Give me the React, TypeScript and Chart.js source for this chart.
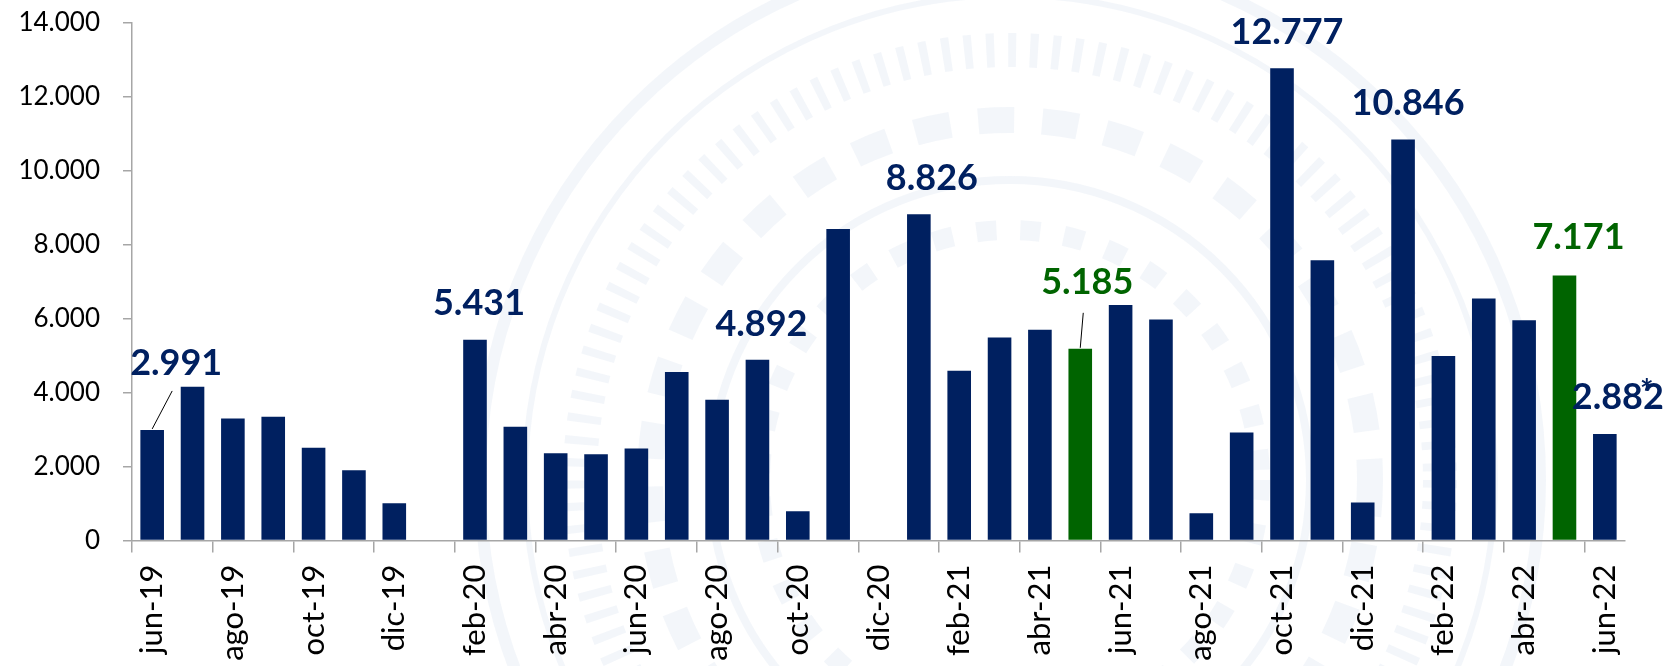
import React, { useEffect, useRef } from 'react';
import { Chart, registerables } from 'chart.js';

Chart.register(...registerables);

const categories = [
  'jun-19', 'jul-19', 'ago-19', 'sep-19', 'oct-19', 'nov-19', 'dic-19', 'ene-20',
  'feb-20', 'mar-20', 'abr-20', 'may-20', 'jun-20', 'jul-20', 'ago-20', 'sep-20',
  'oct-20', 'nov-20', 'dic-20', 'ene-21', 'feb-21', 'mar-21', 'abr-21', 'may-21',
  'jun-21', 'jul-21', 'ago-21', 'sep-21', 'oct-21', 'nov-21', 'dic-21', 'ene-22',
  'feb-22', 'mar-22', 'abr-22', 'may-22', 'jun-22',
];

const values: (number | null)[] = [
  2991, 4160, 3300, 3350, 2510, 1900, 1010, null,
  5431, 3080, 2360, 2330, 2490, 4560, 3810, 4892,
  790, 8430, null, 8826, 4590, 5490, 5700, 5185,
  6370, 5980, 740, 2920, 12777, 7580, 1030, 10846,
  4990, 6550, 5960, 7171, 2882,
];

const highlightedMonths = ['may-21', 'may-22'];
const labeledMonths = ['jun-19', 'feb-20', 'sep-20', 'ene-21', 'may-21', 'oct-21', 'ene-22', 'may-22', 'jun-22'];
const starredMonths = ['jun-22'];

const yMin = 0;
const yMax = 14000;
const yStep = 2000;

const NAVY = '#002060';
const GREEN = '#006400';
const AXIS = '#a6a6a6';

// label placement (offsets from bar top centre), not data
const labelPlacement: Record<string, { dx: number; dy: number; leader?: [number, number, number, number] }> = {
  'jun-19': { dx: 24, dy: -55, leader: [0, -1, 20, -39] },
  'feb-20': { dx: 4, dy: -25 },
  'sep-20': { dx: 4, dy: -24 },
  'ene-21': { dx: 13, dy: -24 },
  'may-21': { dx: 7, dy: -55, leader: [0, -1, 3, -36] },
  'oct-21': { dx: 5, dy: -24 },
  'ene-22': { dx: 5, dy: -25 },
  'may-22': { dx: 14, dy: -26 },
  'jun-22': { dx: 13, dy: -25 },
};

const fmt = (v: number) => String(Math.round(v)).replace(/\B(?=(\d{3})+(?!\d))/g, '.');

// faint circular watermark in the background
const watermark = {
  id: 'watermark',
  beforeDraw(chart: any) {
    const ctx = chart.ctx;
    const cx = 1010;
    const cy = 480;
    ctx.save();
    ctx.strokeStyle = 'rgba(200,214,230,0.22)';
    const ring = (r: number, w: number, dash: number[] = []) => {
      ctx.setLineDash(dash);
      ctx.lineWidth = w;
      ctx.beginPath();
      ctx.arc(cx, cy, r, 0, Math.PI * 2);
      ctx.stroke();
    };
    ring(530, 12);
    ring(485, 6);
    ring(430, 34, [8, 14]);
    ring(360, 26, [36, 28]);
    ring(300, 8);
    ring(250, 20, [20, 24]);
    ctx.setLineDash([]);
    ctx.restore();
  },
};

const valueLabels = {
  id: 'valueLabels',
  afterDatasetsDraw(chart: any) {
    const ctx = chart.ctx;
    const meta = chart.getDatasetMeta(0);
    ctx.save();
    labeledMonths.forEach((m) => {
      const i = categories.indexOf(m);
      const v = values[i];
      const el = meta.data[i];
      if (v == null || !el) return;
      const p = labelPlacement[m] || { dx: 0, dy: -24 };
      const color = highlightedMonths.includes(m) ? GREEN : NAVY;
      if (p.leader) {
        ctx.strokeStyle = '#000';
        ctx.lineWidth = 1;
        ctx.beginPath();
        ctx.moveTo(el.x + p.leader[0], el.y + p.leader[1]);
        ctx.lineTo(el.x + p.leader[2], el.y + p.leader[3]);
        ctx.stroke();
      }
      ctx.font = 'bold 36px Lato';
      ctx.fillStyle = color;
      ctx.textAlign = 'center';
      ctx.textBaseline = 'alphabetic';
      const text = fmt(v);
      const x = el.x + p.dx;
      const y = el.y + p.dy;
      ctx.fillText(text, x, y);
      if (starredMonths.includes(m)) {
        const w = ctx.measureText(text).width;
        ctx.font = 'bold 32px Lato';
        ctx.fillText('*', x + w / 2 - 17, y - 6);
      }
    });
    ctx.restore();
  },
};

export default function App() {
  const ref = useRef<HTMLCanvasElement | null>(null);

  useEffect(() => {
    if (!ref.current) return;
    const chart = new Chart(ref.current, {
      type: 'bar',
      data: {
        labels: categories,
        datasets: [
          {
            data: values,
            backgroundColor: categories.map((c) => (highlightedMonths.includes(c) ? GREEN : NAVY)),
            borderWidth: 0,
            categoryPercentage: 1,
            barPercentage: 0.585,
          },
        ],
      },
      options: {
        animation: false,
        responsive: true,
        maintainAspectRatio: false,
        layout: { padding: { top: 23, right: 42, left: 0, bottom: 0 } },
        plugins: { legend: { display: false }, tooltip: { enabled: false } },
        scales: {
          x: {
            afterFit: (scale: any) => {
              scale.height = 131.5;
              scale.paddingLeft = 0;
              scale.paddingRight = 0;
            },
            border: { display: true, color: AXIS, width: 1.5 },
            grid: {
              drawOnChartArea: false,
              drawTicks: true,
              tickLength: 12,
              lineWidth: 1.5,
              color: (ctx: any) => (ctx.index % 2 === 0 ? AXIS : 'rgba(0,0,0,0)'),
            },
            ticks: {
              autoSkip: false,
              maxRotation: 90,
              minRotation: 90,
              padding: 12,
              color: '#000',
              font: { family: 'Lato', size: 31 },
              callback: (_v: any, i: number) => (i % 2 === 0 ? categories[i] : ''),
            },
          },
          y: {
            min: yMin,
            max: yMax,
            afterFit: (scale: any) => {
              scale.width = 132;
              scale.paddingTop = 0;
              scale.paddingBottom = 0;
            },
            border: { display: true, color: AXIS, width: 1.5 },
            grid: {
              drawOnChartArea: false,
              drawTicks: true,
              tickLength: 9,
              lineWidth: 1.5,
              color: AXIS,
            },
            ticks: {
              stepSize: yStep,
              padding: 23,
              color: '#000',
              font: { family: 'Lato', size: 26 },
              callback: (v: any) => fmt(Number(v)),
            },
          },
        },
      },
      plugins: [watermark, valueLabels],
    });
    return () => chart.destroy();
  }, []);

  return (
    <div style={{ position: 'absolute', left: 0, top: 0, width: 1667, height: 666, overflow: 'hidden', background: '#fff' }}>
      <div style={{ position: 'relative', width: 1667, height: 672 }}>
        <canvas ref={ref} />
      </div>
    </div>
  );
}
